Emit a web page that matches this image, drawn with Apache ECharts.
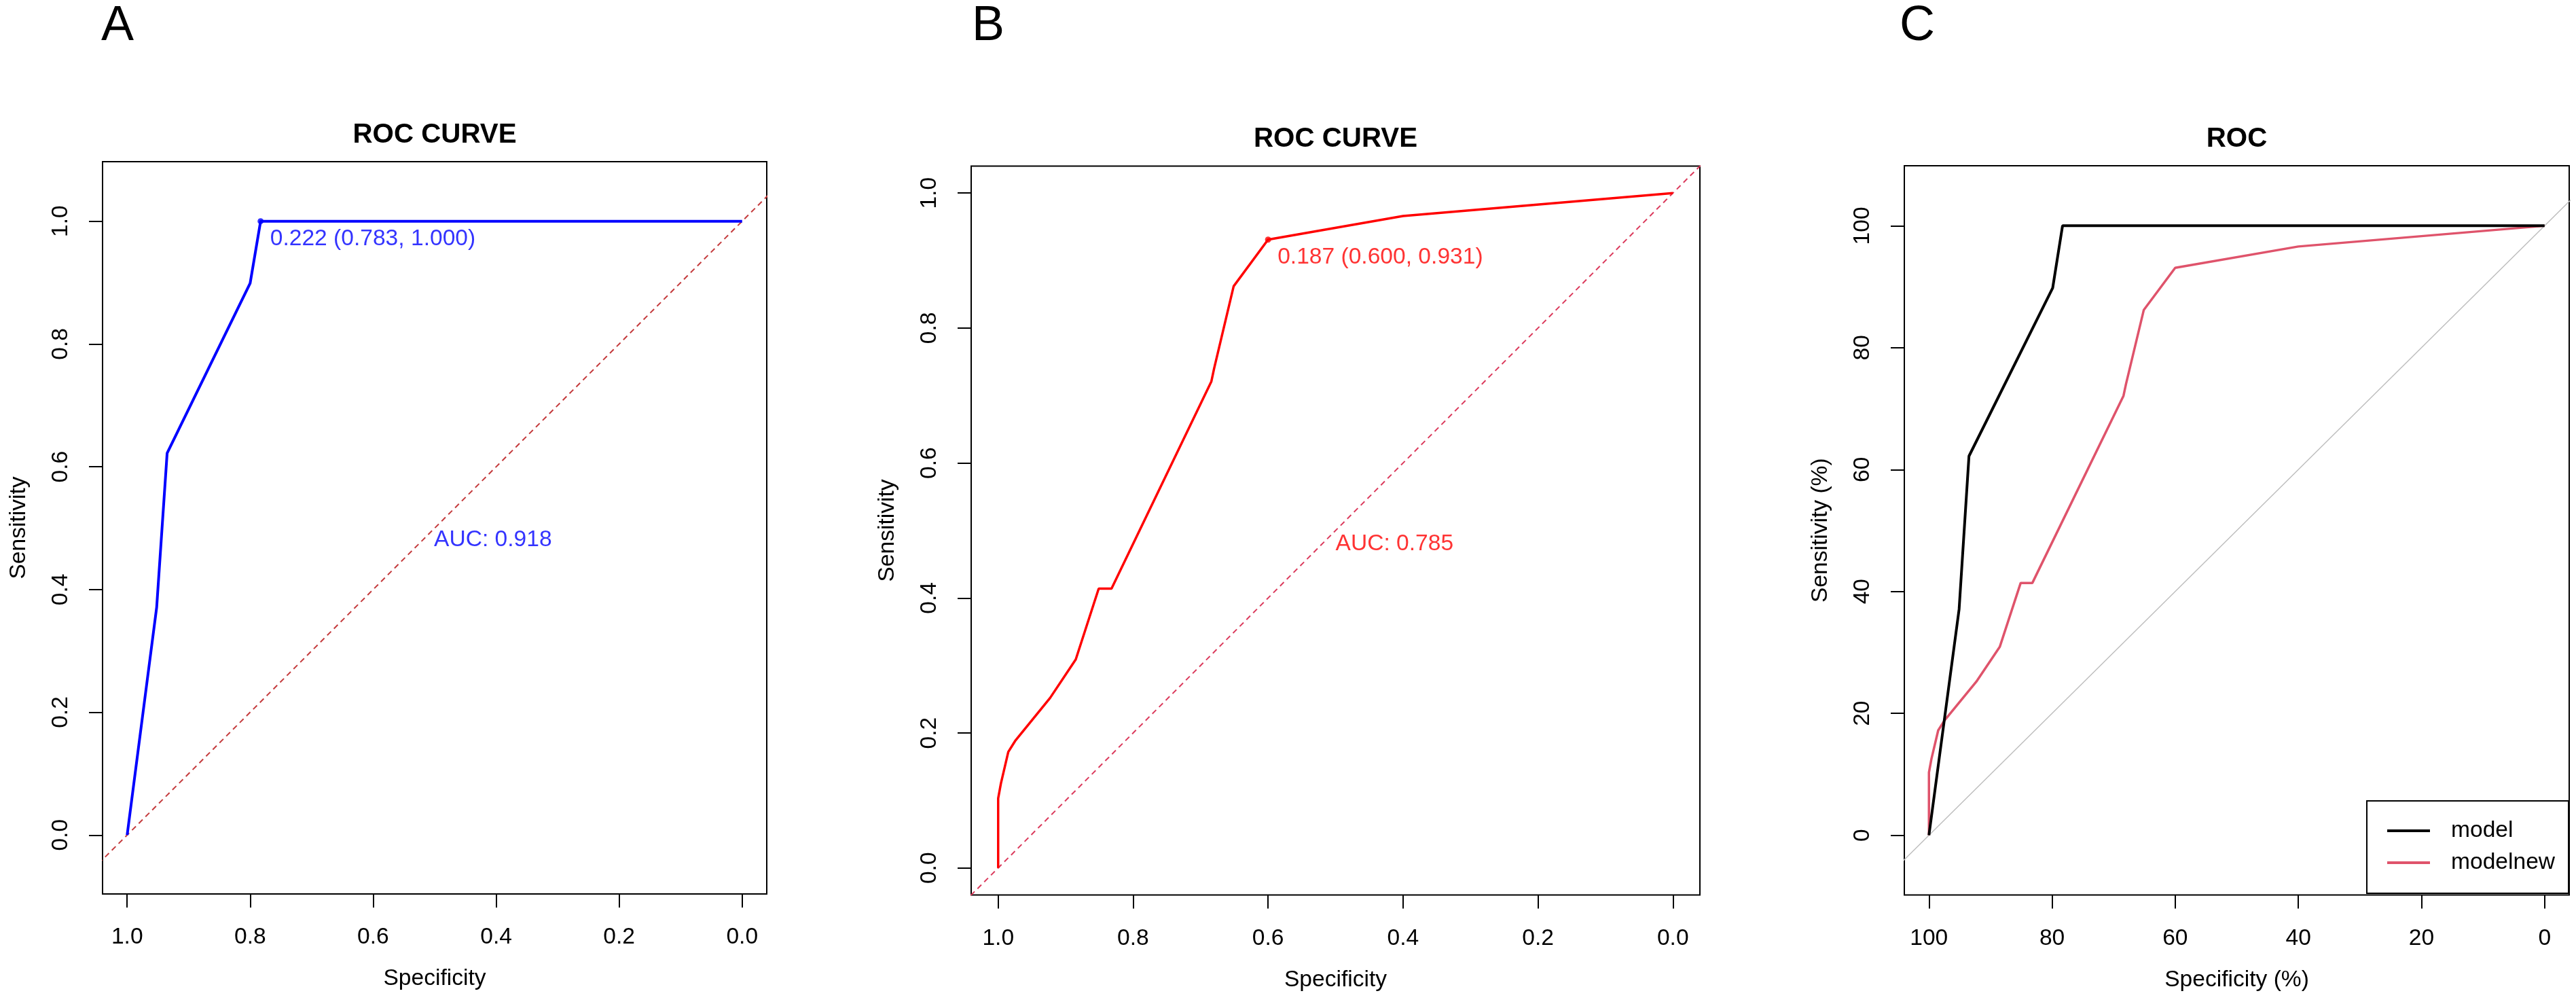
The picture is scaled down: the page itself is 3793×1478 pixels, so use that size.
<!DOCTYPE html>
<html>
<head>
<meta charset="utf-8">
<script src="https://cdn.jsdelivr.net/npm/echarts@6/dist/echarts.min.js"></script>
<style>
html,body{margin:0;padding:0;background:#fff;}
#chart{width:3793px;height:1478px;}
</style>
</head>
<body>
<div id="chart"></div>
<script>
// ---------- data ----------
// Panel A (ROC CURVE, blue)
const specA = [1.000, 0.952, 0.935, 0.800, 0.783, 0.000];
const sensA = [0.000, 0.371, 0.622, 0.899, 1.000, 1.000];
const thrA = [0.783, 1.000];
const thrTextA = '0.222 (0.783, 1.000)';
const aucA = [0.5, 0.5];
const aucTextA = 'AUC: 0.918';

// Panel B (ROC CURVE, red)
const specB = [1.000, 1.000, 0.996, 0.985, 0.975, 0.923, 0.885, 0.851, 0.832, 0.684, 0.680, 0.651, 0.600, 0.400, 0.000];
const sensB = [0.000, 0.103, 0.125, 0.172, 0.188, 0.252, 0.309, 0.414, 0.414, 0.721, 0.740, 0.862, 0.931, 0.966, 1.000];
const thrB = [0.600, 0.931];
const thrTextB = '0.187 (0.600, 0.931)';
const aucB = [0.5, 0.5];
const aucTextB = 'AUC: 0.785';

// Panel C (ROC, percent)
const specModel = [100, 95.1, 93.5, 79.9, 78.3, 0];
const sensModel = [0, 37.1, 62.2, 89.8, 100, 100];
const specModelNew = [100, 100, 99.6, 98.5, 97.5, 92.3, 88.5, 85.1, 83.2, 68.4, 68.0, 65.1, 60.0, 40.0, 0];
const sensModelNew = [0, 10.3, 12.5, 17.2, 18.8, 25.2, 30.9, 41.4, 41.4, 72.1, 74.0, 86.2, 93.1, 96.6, 100];

// identity (chance) lines, extended beyond the plot and clipped by the grid
const diagUnit = [[1.2, -0.2], [-0.2, 1.2]];
const diagPct = [[120, -20], [-20, 120]];

// tick labels
const ticksUnit = [0, 0.2, 0.4, 0.6, 0.8, 1.0];
const ticksPct = [0, 20, 40, 60, 80, 100];

const seriesNamesC = ['model', 'modelnew'];
const panelLetters = ['A', 'B', 'C'];
const panelTitles = ['ROC CURVE', 'ROC CURVE', 'ROC'];
const xNames = ['Specificity', 'Specificity', 'Specificity (%)'];
const yNames = ['Sensitivity', 'Sensitivity', 'Sensitivity (%)'];

// ---------- helpers ----------
const zip = (a, b) => a.map((v, i) => [v, b[i]]);
const FONT = 'Liberation Sans, Arial, Helvetica, sans-serif';
const FS = 33.6;

const grids = [
  {left: 151, top: 238, width: 978, height: 1078},
  {left: 1430, top: 244.5, width: 1073, height: 1073},
  {left: 2804, top: 244, width: 979, height: 1073.5}
];
const xRanges = [[-0.04, 1.04], [-0.04, 1.04], [-4, 104]];
const yRanges = [[-0.096, 1.097], [-0.04, 1.04], [-9.8, 109.85]];

function mkX(i) {
  const ticks = i < 2 ? ticksUnit : ticksPct;
  const fmt = i < 2 ? (v => Number(v).toFixed(1)) : (v => String(Math.round(v)));
  return {
    type: 'value', gridIndex: i, inverse: true, position: 'bottom',
    min: xRanges[i][0], max: xRanges[i][1],
    name: xNames[i], nameLocation: 'middle', nameGap: 108,
    nameTextStyle: {fontFamily: FONT, fontSize: FS, color: '#000'},
    axisLine: {show: false, onZero: false},
    splitLine: {show: false},
    axisTick: {show: true, customValues: ticks, length: 20, inside: false, lineStyle: {color: '#000', width: 2}},
    axisLabel: {show: true, customValues: ticks, formatter: fmt, margin: 47, fontFamily: FONT, fontSize: FS, color: '#000'}
  };
}
function mkY(i) {
  const ticks = i < 2 ? ticksUnit : ticksPct;
  const fmt = i < 2 ? (v => Number(v).toFixed(1)) : (v => String(Math.round(v)));
  return {
    type: 'value', gridIndex: i, position: 'left',
    min: yRanges[i][0], max: yRanges[i][1],
    name: yNames[i], nameLocation: 'middle', nameGap: 106, nameRotate: 90,
    nameTextStyle: {fontFamily: FONT, fontSize: FS, color: '#000'},
    axisLine: {show: false, onZero: false},
    splitLine: {show: false},
    axisTick: {show: true, customValues: ticks, length: 20, inside: false, lineStyle: {color: '#000', width: 2}},
    axisLabel: {show: true, customValues: ticks, formatter: fmt, rotate: 90, margin: 44, fontFamily: FONT, fontSize: FS, color: '#000'}
  };
}

function textPoint(name, gi, pos, text, color, offset) {
  return {
    name: name, type: 'scatter', xAxisIndex: gi, yAxisIndex: gi,
    data: [pos], symbolSize: 0, silent: true, z: 5,
    label: {show: true, position: 'inside', align: 'left', verticalAlign: 'top', offset: offset,
      formatter: text, fontFamily: FONT, fontSize: FS, color: color}
  };
}
function thrPoint(name, gi, pos, text, color) {
  return {
    name: name, type: 'scatter', xAxisIndex: gi, yAxisIndex: gi,
    data: [pos], symbol: 'circle', symbolSize: 9, itemStyle: {color: color}, silent: true, z: 5,
    label: {show: true, position: 'inside', align: 'left', verticalAlign: 'top', offset: [14, 9],
      formatter: text, fontFamily: FONT, fontSize: FS, color: color}
  };
}

const titles = [];
panelTitles.forEach((t, i) => {
  const g = grids[i];
  titles.push({
    text: t, left: g.left + g.width / 2, top: g.top - 59.5, textAlign: 'center', padding: 0,
    textStyle: {fontFamily: FONT, fontSize: 40.3, fontWeight: 'bold', color: '#000'}
  });
});
const letterLeft = [149, 1431, 2797];
panelLetters.forEach((t, i) => {
  titles.push({
    text: t, left: letterLeft[i], top: 3, textAlign: 'left', padding: 0,
    textStyle: {fontFamily: FONT, fontSize: 72, fontWeight: 'normal', color: '#000'}
  });
});

const option = {
  animation: false,
  backgroundColor: '#fff',
  title: titles,
  grid: grids.map(g => Object.assign({show: true, borderColor: '#000', borderWidth: 2, backgroundColor: 'transparent', containLabel: false}, g)),
  xAxis: [0, 1, 2].map(mkX),
  yAxis: [0, 1, 2].map(mkY),
  legend: {
    data: seriesNamesC,
    orient: 'vertical', left: 3485, top: 1179,
    padding: [27, 20, 28, 30], itemGap: 13,
    itemWidth: 63, itemHeight: 4, icon: 'rect',
    borderColor: '#000', borderWidth: 2, backgroundColor: '#fff',
    textStyle: {fontFamily: FONT, fontSize: FS, color: '#000', padding: [0, 0, 0, 26]},
    selectedMode: false
  },
  series: [
    // Panel A
    {name: 'diagA', type: 'line', xAxisIndex: 0, yAxisIndex: 0, data: diagUnit, showSymbol: false, silent: true,
      lineStyle: {color: '#C43A3C', width: 2, type: [8, 6]}, z: 1},
    {name: 'curveA', type: 'line', xAxisIndex: 0, yAxisIndex: 0, data: zip(specA, sensA), showSymbol: false,
      color: '#0000FF', lineStyle: {color: '#0000FF', width: 4}, z: 2},
    thrPoint('thrA', 0, thrA, thrTextA, '#0000FF'),
    textPoint('aucA', 0, aucA, aucTextA, '#0000FF', [-1, 0]),
    // Panel B
    {name: 'diagB', type: 'line', xAxisIndex: 1, yAxisIndex: 1, data: diagUnit, showSymbol: false, silent: true,
      lineStyle: {color: '#DB3A5C', width: 2, type: [8, 6]}, z: 1},
    {name: 'curveB', type: 'line', xAxisIndex: 1, yAxisIndex: 1, data: zip(specB, sensB), showSymbol: false,
      color: '#FF0000', lineStyle: {color: '#FF0000', width: 3.5}, z: 2},
    thrPoint('thrB', 1, thrB, thrTextB, '#FF0000'),
    textPoint('aucB', 1, aucB, aucTextB, '#FF0000', [0, 3]),
    // Panel C
    {name: 'diagC', type: 'line', xAxisIndex: 2, yAxisIndex: 2, data: diagPct, showSymbol: false, silent: true,
      lineStyle: {color: '#BDBDBD', width: 1.5}, z: 1},
    {name: seriesNamesC[0], type: 'line', xAxisIndex: 2, yAxisIndex: 2, data: zip(specModel, sensModel), showSymbol: false,
      color: '#000000', lineStyle: {color: '#000000', width: 4}, z: 3},
    {name: seriesNamesC[1], type: 'line', xAxisIndex: 2, yAxisIndex: 2, data: zip(specModelNew, sensModelNew), showSymbol: false,
      color: '#DF536B', lineStyle: {color: '#DF536B', width: 3.5}, z: 2}
  ]
};

const chart = echarts.init(document.getElementById('chart'), null, {renderer: 'canvas'});
chart.setOption(option);
</script>
</body>
</html>
